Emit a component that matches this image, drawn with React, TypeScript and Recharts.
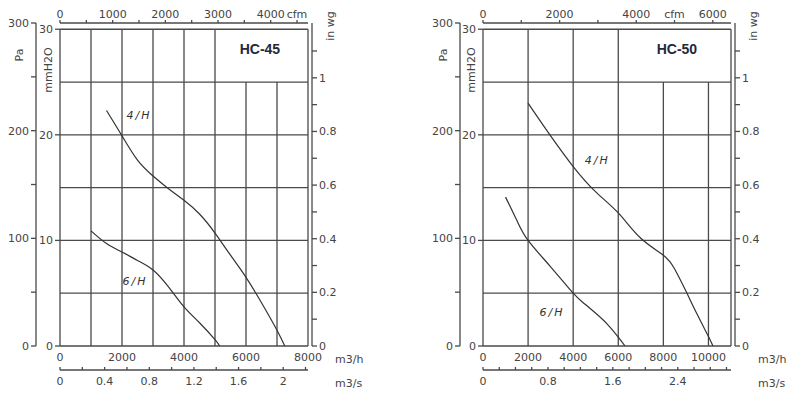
import { ComposedChart, Line, XAxis, YAxis, ReferenceLine, ReferenceDot, Label } from 'recharts';

const M3H_PER_CFM = 1.699;
const PA_PER_MMH2O = 9.80665;
const MMH2O_PER_INWG = 25.4;
const M3H_PER_M3S = 3600;
const PA_MAX = 300;
const MM_MAX = PA_MAX / PA_PER_MMH2O;

// shared pressure scales
const paTicks = [0, 50, 100, 150, 200, 250, 300];
const paLabels = [0, 100, 200, 300];
const mmTicks = [0, 10, 20, 30];
const mmRows = [0, 5, 10, 15, 20, 25, 30];
const inwgTicks = [0, 0.1, 0.2, 0.3, 0.4, 0.5, 0.6, 0.7, 0.8, 0.9, 1, 1.1];
const inwgLabels = [0, 0.2, 0.4, 0.6, 0.8, 1];

// HC-45
const hc45FlowMax = 8000;
const hc45M3hTicks = [0, 2000, 4000, 6000, 8000];
const hc45CfmTicks = [0, 500, 1000, 1500, 2000, 2500, 3000, 3500, 4000, 4500];
const hc45CfmLabels = [0, 1000, 2000, 3000, 4000];
const hc45CfmUnitAt = 4500;
const hc45M3sTicks = [0, 0.2, 0.4, 0.6, 0.8, 1, 1.2, 1.4, 1.6, 1.8, 2, 2.2];
const hc45M3sLabels = [0, 0.4, 0.8, 1.2, 1.6, 2];
const hc45FullCols = [0, 1000, 2000, 3000, 4000, 5000, 8000];
const hc45ShortCols = [6000, 7000];
const hc45Flow4H = [1500, 2000, 2500, 3000, 3500, 4000, 4500, 5000, 5500, 6000, 6500, 7000, 7250];
const hc45Mm4H = [22.3, 19.9, 17.6, 16.1, 14.9, 13.8, 12.5, 10.7, 8.6, 6.5, 4.1, 1.5, 0];
const hc45Flow6H = [1000, 1500, 2000, 2500, 3000, 3500, 4000, 4500, 5000, 5150];
const hc45Mm6H = [10.9, 9.7, 8.9, 8.1, 7.2, 5.6, 3.7, 2.2, 0.6, 0];

// HC-50
const hc50FlowMax = 11000;
const hc50M3hTicks = [0, 2000, 4000, 6000, 8000, 10000];
const hc50CfmTicks = [0, 1000, 2000, 3000, 4000, 5000, 6000];
const hc50CfmLabels = [0, 2000, 4000, 6000];
const hc50CfmUnitAt = 5000;
const hc50M3sTicks = [0, 0.2, 0.4, 0.6, 0.8, 1, 1.2, 1.4, 1.6, 1.8, 2, 2.2, 2.4, 2.6, 2.8, 3];
const hc50M3sLabels = [0, 0.8, 1.6, 2.4];
const hc50FullCols = [0, 2000, 4000, 6000, 11000];
const hc50ShortCols = [8000, 10000];
const hc50Flow4H = [2000, 3000, 4000, 5000, 6000, 7000, 8000, 8500, 9000, 9500, 10000, 10200];
const hc50Mm4H = [23.0, 19.9, 17.0, 14.6, 12.6, 10.2, 8.6, 7.3, 5.2, 3.0, 0.9, 0];
const hc50Flow6H = [1000, 1500, 2000, 3000, 4000, 4500, 5000, 5500, 6000, 6300];
const hc50Mm6H = [14.1, 11.9, 10.0, 7.5, 5.0, 4.0, 3.1, 2.1, 0.85, 0];

const INK = '#4a4a4a';
const CURVE = '#333';
const TEXT = '#444';
const FONT = 'DejaVu Sans';
const tickFont = { fontSize: 11, fill: TEXT, fontFamily: FONT };
const axisStroke = { stroke: INK, strokeWidth: 1.3 };

const toPoints = (flow: number[], mm: number[]) => flow.map((q, i) => ({ q, mm: mm[i] }));

const pick = (labels: number[]) => (v: number) => (labels.includes(v) ? String(v) : '');

// rotated axis title, dx measured from the axis line
const sideTitle = (text: string, dx: number, dy: number, side: 'left' | 'right') => (props: any) => {
  const vb = props.viewBox;
  const cx = (side === 'left' ? vb.x + vb.width : vb.x) + dx;
  const cy = vb.y + dy;
  return (
    <text
      x={cx}
      y={cy}
      transform={`rotate(-90 ${cx} ${cy})`}
      textAnchor="middle"
      dominantBaseline="central"
      fontSize={11}
      fill={TEXT}
      fontFamily={FONT}
    >
      {text}
    </text>
  );
};

const unitLabel = (text: string) => (props: any) => {
  const vb = props.viewBox;
  return (
    <text
      x={vb.x + vb.width + 27}
      y={vb.y + vb.height / 2 + 1}
      dominantBaseline="central"
      fontSize={11}
      fill={TEXT}
      fontFamily={FONT}
    >
      {text}
    </text>
  );
};

interface PanelCfg {
  title: string;
  titleAt: [number, number];
  flowMax: number;
  m3hTicks: number[];
  cfmTicks: number[];
  cfmLabels: number[];
  cfmUnitAt: number;
  m3sTicks: number[];
  m3sLabels: number[];
  fullCols: number[];
  shortCols: number[];
  curves: { name: string; flow: number[]; mm: number[]; labelAt: [number, number] }[];
  paWidth: number;
  mmWidth: number;
  inwgWidth: number;
}

function FanPanel({ p }: { p: PanelCfg }) {
  // the secondary flow axes read the m3/h tick values through a unit conversion
  const flowRows = p.m3hTicks.map((q) => ({ q }));
  return (
    <ComposedChart width={400} height={395} data={flowRows} margin={{ top: 0, right: 0, bottom: 0, left: 0 }}>
      <XAxis
        xAxisId="cfm"
        orientation="top"
        type="number"
        dataKey={(d: { q: number }) => d.q / M3H_PER_CFM}
        domain={[0, p.flowMax / M3H_PER_CFM]}
        allowDataOverflow
        ticks={p.cfmTicks}
        interval={0}
        tickFormatter={(v: number) => (v === p.cfmUnitAt ? 'cfm' : pick(p.cfmLabels)(v))}
        height={23}
        tickSize={3}
        tickMargin={2}
        axisLine={axisStroke}
        tickLine={axisStroke}
        tick={tickFont}
      />
      <XAxis
        xAxisId="m3h"
        dataKey="q"
        type="number"
        domain={[0, p.flowMax]}
        allowDataOverflow
        ticks={p.m3hTicks}
        interval={0}
        height={24}
        tickSize={0}
        tickMargin={7}
        axisLine={false}
        tickLine={false}
        tick={tickFont}
      >
        <Label content={unitLabel('m3/h')} />
      </XAxis>
      <XAxis
        xAxisId="m3s"
        type="number"
        dataKey={(d: { q: number }) => d.q / M3H_PER_M3S}
        domain={[0, p.flowMax / M3H_PER_M3S]}
        allowDataOverflow
        ticks={p.m3sTicks}
        interval={0}
        tickFormatter={pick(p.m3sLabels)}
        height={25}
        tickSize={-3}
        tickMargin={10}
        axisLine={axisStroke}
        tickLine={axisStroke}
        tick={tickFont}
      >
        <Label content={unitLabel('m3/s')} />
      </XAxis>
      <YAxis
        yAxisId="mm"
        type="number"
        domain={[0, MM_MAX]}
        allowDataOverflow
        ticks={mmTicks}
        interval={0}
        width={p.mmWidth}
        tickSize={5}
        tickMargin={2}
        axisLine={false}
        tickLine={axisStroke}
        tick={tickFont}
      >
        <Label content={sideTitle('mmH2O', -12, 47, 'left')} />
      </YAxis>
      <YAxis
        yAxisId="pa"
        type="number"
        domain={[0, PA_MAX]}
        allowDataOverflow
        ticks={paTicks}
        interval={0}
        tickFormatter={pick(paLabels)}
        width={p.paWidth}
        tickSize={5}
        tickMargin={2}
        axisLine={axisStroke}
        tickLine={axisStroke}
        tick={tickFont}
      >
        <Label content={sideTitle('Pa', -17, 32, 'left')} />
      </YAxis>
      <YAxis yAxisId="gap" orientation="right" width={4} domain={[0, 1]} tick={false} axisLine={false} tickLine={false} />
      <YAxis
        yAxisId="inwg"
        orientation="right"
        type="number"
        domain={[0, MM_MAX / MMH2O_PER_INWG]}
        allowDataOverflow
        ticks={inwgTicks}
        interval={0}
        tickFormatter={pick(inwgLabels)}
        width={p.inwgWidth}
        tickSize={5}
        tickMargin={2}
        axisLine={axisStroke}
        tickLine={axisStroke}
        tick={tickFont}
      >
        <Label content={sideTitle('in wg', 18, 3, 'right')} />
      </YAxis>

      {mmRows.map((v) => (
        <ReferenceLine key={`r${v}`} xAxisId="m3h" yAxisId="mm" y={v} stroke={INK} strokeWidth={1.3} />
      ))}
      {p.fullCols.map((v) => (
        <ReferenceLine
          key={`c${v}`}
          xAxisId="m3h"
          yAxisId="mm"
          segment={[{ x: v, y: 0 }, { x: v, y: 30 }]}
          stroke={INK}
          strokeWidth={1.3}
        />
      ))}
      {p.shortCols.map((v) => (
        <ReferenceLine
          key={`s${v}`}
          xAxisId="m3h"
          yAxisId="mm"
          segment={[{ x: v, y: 0 }, { x: v, y: 25 }]}
          stroke={INK}
          strokeWidth={1.3}
        />
      ))}

      {p.curves.map((c) => (
        <Line
          key={c.name}
          xAxisId="m3h"
          yAxisId="mm"
          data={toPoints(c.flow, c.mm)}
          dataKey="mm"
          type="natural"
          stroke={CURVE}
          strokeWidth={1.2}
          dot={false}
          activeDot={false}
          isAnimationActive={false}
        />
      ))}
      {p.curves.map((c) => (
        <ReferenceDot
          key={`l${c.name}`}
          xAxisId="m3h"
          yAxisId="mm"
          x={c.labelAt[0]}
          y={c.labelAt[1]}
          r={0}
          fill="none"
          stroke="none"
          label={{
            value: c.name,
            position: 'center',
            fontSize: 11,
            fontStyle: 'italic',
            letterSpacing: 2,
            fill: '#333',
            fontFamily: FONT,
          }}
        />
      ))}
      <ReferenceDot
        xAxisId="m3h"
        yAxisId="mm"
        x={p.titleAt[0]}
        y={p.titleAt[1]}
        r={0}
        fill="none"
        stroke="none"
        label={{
          value: p.title,
          position: 'center',
          fontSize: 14,
          fontWeight: 'bold',
          fill: '#222a38',
          fontFamily: 'Liberation Sans',
        }}
      />
    </ComposedChart>
  );
}

const hc45: PanelCfg = {
  title: 'HC-45',
  titleAt: [6450, 28.1],
  flowMax: hc45FlowMax,
  m3hTicks: hc45M3hTicks,
  cfmTicks: hc45CfmTicks,
  cfmLabels: hc45CfmLabels,
  cfmUnitAt: hc45CfmUnitAt,
  m3sTicks: hc45M3sTicks,
  m3sLabels: hc45M3sLabels,
  fullCols: hc45FullCols,
  shortCols: hc45ShortCols,
  curves: [
    { name: '4/H', flow: hc45Flow4H, mm: hc45Mm4H, labelAt: [2550, 21.9] },
    { name: '6/H', flow: hc45Flow6H, mm: hc45Mm6H, labelAt: [2420, 6.1] },
  ],
  paWidth: 36,
  mmWidth: 24,
  inwgWidth: 88,
};

const hc50: PanelCfg = {
  title: 'HC-50',
  titleAt: [8600, 28.1],
  flowMax: hc50FlowMax,
  m3hTicks: hc50M3hTicks,
  cfmTicks: hc50CfmTicks,
  cfmLabels: hc50CfmLabels,
  cfmUnitAt: hc50CfmUnitAt,
  m3sTicks: hc50M3sTicks,
  m3sLabels: hc50M3sLabels,
  fullCols: hc50FullCols,
  shortCols: hc50ShortCols,
  curves: [
    { name: '4/H', flow: hc50Flow4H, mm: hc50Mm4H, labelAt: [5070, 17.6] },
    { name: '6/H', flow: hc50Flow6H, mm: hc50Mm6H, labelAt: [3060, 3.2] },
  ],
  paWidth: 60,
  mmWidth: 23,
  inwgWidth: 65,
};

export default function App() {
  return (
    <div style={{ position: 'absolute', left: 0, top: 0, width: 800, height: 395, display: 'flex', background: '#fff' }}>
      <FanPanel p={hc45} />
      <FanPanel p={hc50} />
    </div>
  );
}
